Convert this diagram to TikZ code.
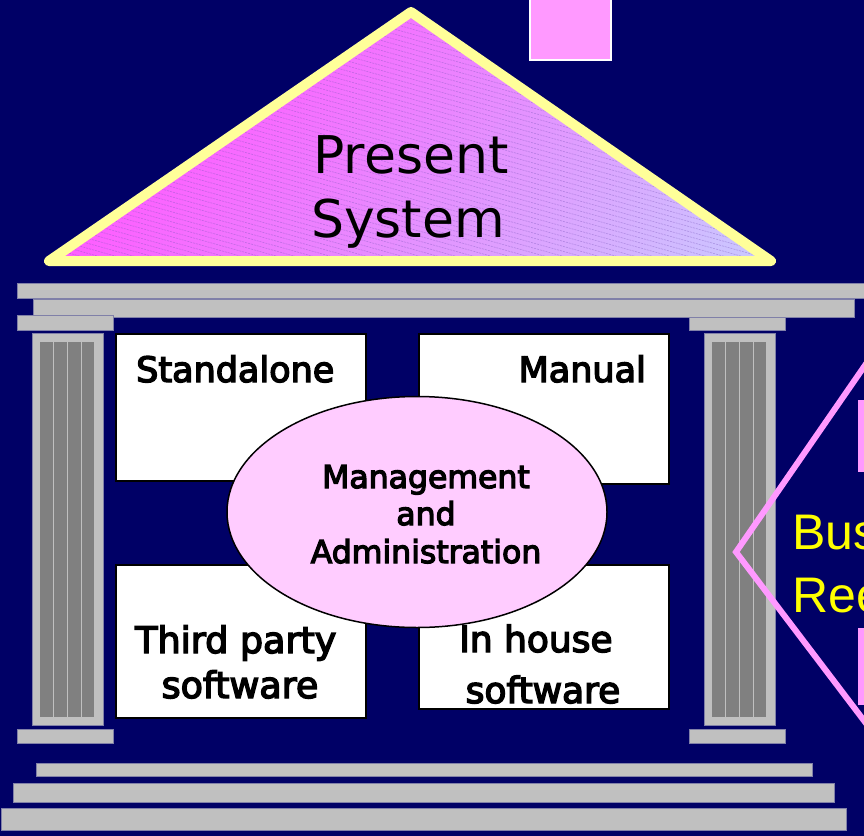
\documentclass[tikz,border=0pt]{standalone}
\usepackage{fontspec}
\usetikzlibrary{shapes.geometric}
\setmainfont{DejaVu Sans}
\newfontfamily\boxfont{DejaVu Sans}[FakeBold=4]
\newfontfamily\arialfont{Liberation Sans}
\definecolor{navy}{HTML}{000066}
\definecolor{roofA}{HTML}{FF5CFF}
\definecolor{roofB}{HTML}{C8CCFF}
\definecolor{roofline}{HTML}{FFFF99}
\definecolor{pinkc}{HTML}{FF99FF}
\definecolor{stone}{HTML}{C0C0C0}
\definecolor{stoneedge}{HTML}{8080A8}
\definecolor{flute}{HTML}{808080}
\definecolor{ellfill}{HTML}{FFCCFF}
\definecolor{hatch}{HTML}{7755BB}
\definecolor{yel}{HTML}{FFFF00}
\begin{document}
\begin{tikzpicture}[x=1bp,y=-1bp,
  stonebar/.style={fill=stone,draw=stoneedge,line width=0.6bp},
  flutebar/.style={fill=flute,draw=stone,line width=0.8bp},
  infobox/.style={rectangle,fill=white,draw=black,line width=2bp,inner sep=0,anchor=north west},
  boxtext/.style={inner sep=0,text=black,font=\boxfont\fontsize{35bp}{42bp}\selectfont},
  roofmark/.style={draw=pinkc,line width=6bp}]
\useasboundingbox (0,0) rectangle (864,836);
\clip (0,0) rectangle (864,836);
\fill[navy] (0,0) rectangle (864,836);

% chimney
\draw[fill=pinkc,draw=white,line width=1.2bp] (530,-5) rectangle (611,60);

% roof
\coordinate (apex) at (411,12);
\coordinate (rl) at (49,261);
\coordinate (rr) at (771,261);
\begin{scope}
\clip (apex) -- (rl) -- (rr) -- cycle;
\foreach \i in {0,...,56}{
  \pgfmathsetmacro\ta{200+\i*10}
  \pgfmathsetmacro\tb{\ta+11}
  \pgfmathsetmacro\mix{100-\i*100/56}
  \fill[roofA!\mix!roofB]
    ({0.766*\ta+514.4},{0.643*\ta-612.8}) -- ({0.766*\tb+514.4},{0.643*\tb-612.8}) --
    ({0.766*\tb-514.4},{0.643*\tb+612.8}) -- ({0.766*\ta-514.4},{0.643*\ta+612.8}) -- cycle;
}
\foreach \k in {-240,-235,...,270}
  \draw[hatch,opacity=0.4,line width=0.6bp,dash pattern=on 2bp off 1bp] (40,\k) -- (780,\k+207);
\end{scope}
\draw[roofline,line width=10bp,line join=round] (apex) -- (rl) -- (rr) -- cycle;
\node[inner sep=0,anchor=base,font=\fontsize{52bp}{64bp}\selectfont] (present) at (411,173) {Present};
\node[inner sep=0,anchor=base,font=\fontsize{52bp}{64bp}\selectfont] (system) at (408,237) {System};

% entablature
\draw[stonebar] (17,283) rectangle (880,298);
\draw[stonebar] (33,299) rectangle (854,317);
\draw[stonebar] (17,315) rectangle (113,330);
\draw[stonebar] (689,317) rectangle (785,330);

% columns
\foreach \cx in {32,704}{
  \draw[stonebar] (\cx,333) rectangle (\cx+71,725);
  \foreach \i in {0,1,2,3}
    \draw[flutebar] (\cx+7.5+\i*13.8,341) rectangle (\cx+7.5+\i*13.8+13.8,717);
  \draw[stonebar] (\cx-15,729) rectangle (\cx+81,743);
}

% steps
\draw[stonebar] (36,763) rectangle (812,776);
\draw[stonebar] (13,783) rectangle (834,802);
\draw[stonebar] (1,808) rectangle (846,830);

% boxes
\node[infobox,minimum width=250bp,minimum height=147bp] (standalone) at (115,333) {};
\node[infobox,minimum width=250bp,minimum height=150bp] (manual) at (418,333) {};
\node[infobox,minimum width=250bp,minimum height=153bp] (thirdparty) at (115,564) {};
\node[infobox,minimum width=250bp,minimum height=144bp] (inhouse) at (418,564) {};

\node[boxtext,anchor=base west] (t1) at (136,382) {Standalone};
\node[boxtext,anchor=base east] (t2) at (646,382) {Manual};
\node[boxtext,anchor=base west,font=\boxfont\fontsize{36.5bp}{42bp}\selectfont] (t3) at (135,653) {Third party};
\node[boxtext,anchor=base,font=\boxfont\fontsize{36.5bp}{42bp}\selectfont] (t4) at (240,698) {software};
\node[boxtext,anchor=base west,font=\boxfont\fontsize{36bp}{42bp}\selectfont] (t5) at (459,652) {In house};
\node[boxtext,anchor=base,font=\boxfont\fontsize{36bp}{42bp}\selectfont] (t6) at (543,703) {software};

% ellipse
\node[ellipse,draw=black,fill=ellfill,line width=1.5bp,minimum width=380bp,minimum height=231bp,inner sep=0] (mgmt) at (417,512) {};
\node[inner sep=0,anchor=base,font=\boxfont\fontsize{31.5bp}{37.5bp}\selectfont] (m1) at (426,488) {Management};
\node[inner sep=0,anchor=base,font=\boxfont\fontsize{31.5bp}{37.5bp}\selectfont] (m2) at (426,525) {and};
\node[inner sep=0,anchor=base,font=\boxfont\fontsize{31.5bp}{37.5bp}\selectfont] (m3) at (426,563) {Administration};

% right-hand partial shape
\coordinate (dv) at (736,552);
\draw[roofmark,line join=miter] (906,306) -- (dv) -- (906,776);
\fill[pinkc] (858,400) rectangle (870,472);
\fill[pinkc] (858,628) rectangle (870,705);
\node[inner sep=0,anchor=base west,text=yel,font=\arialfont\fontsize{50bp}{64bp}\selectfont] (bus) at (792,549) {Bus};
\node[inner sep=0,anchor=base west,text=yel,font=\arialfont\fontsize{50bp}{64bp}\selectfont] (ree) at (792,612) {Ree};
\end{tikzpicture}
\end{document}
